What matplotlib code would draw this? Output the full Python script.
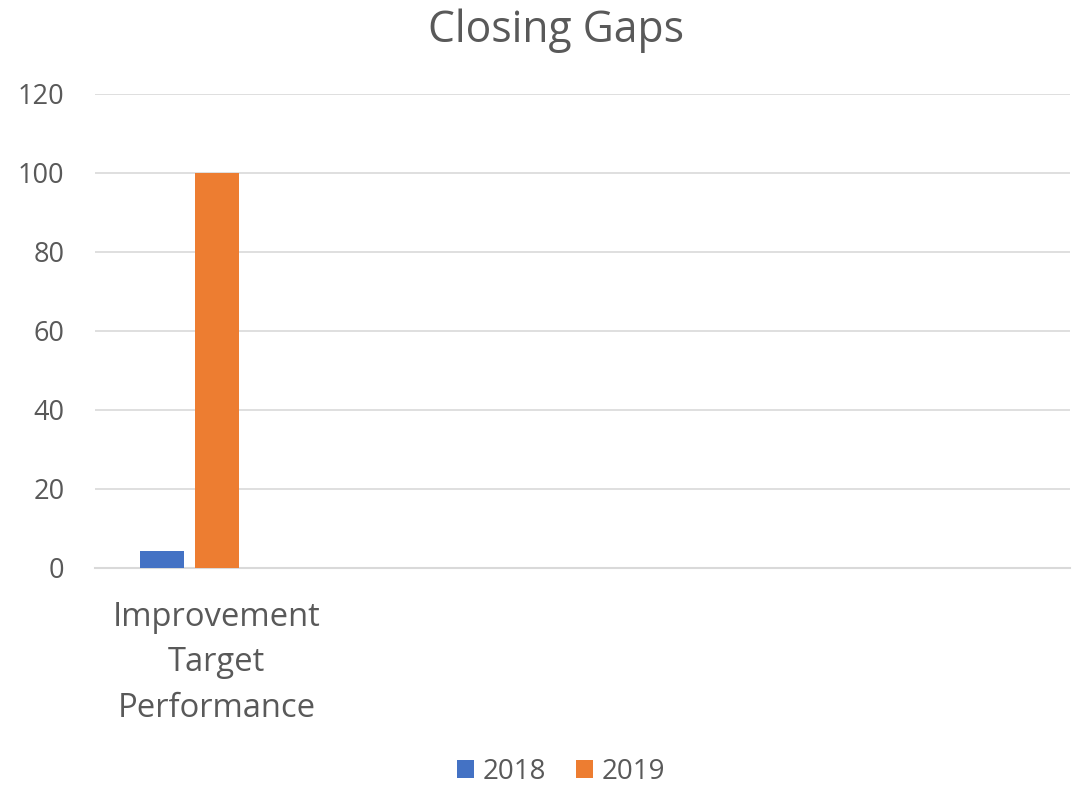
import matplotlib
matplotlib.use("Agg")
import matplotlib.pyplot as plt
import numpy as np

categories = ["Improvement\nTarget\nPerformance", "", "", ""]
series_names = ["2018", "2019"]
values_2018 = [4.2, 0, 0, 0]
values_2019 = [100, 0, 0, 0]
values_hidden = [0, 0, 0, 0]
colors = ["#4472C4", "#ED7D31"]
text_color = "#595959"
grid_color = "#D9D9D9"

plt.rcParams['font.family'] = ['Open Sans', 'DejaVu Sans']

fig = plt.figure(figsize=(10.73, 7.86), dpi=100)
ax = fig.add_axes([95/1073, 218.5/786, (1070-95)/1073, (567.5-94)/786])

x = np.arange(len(categories))
w = 0.18
off = 0.2256
ax.bar(x - off, values_2018, width=w, color=colors[0], label=series_names[0], zorder=3)
ax.bar(x, values_2019, width=w, color=colors[1], label=series_names[1], zorder=3)
ax.bar(x + off, values_hidden, width=w, color="none", zorder=3)

ax.set_xlim(-0.5, len(categories) - 0.5)
ax.set_ylim(0, 120)
ax.set_yticks(range(0, 121, 20))
ax.yaxis.grid(True, color=grid_color, linewidth=1.2, zorder=0)
ax.set_axisbelow(True)
for s in ["top", "right", "left"]:
    ax.spines[s].set_visible(False)
ax.spines["bottom"].set_color(grid_color)
ax.spines["bottom"].set_linewidth(1.5)
ax.tick_params(axis="both", length=0, colors=text_color)
ax.tick_params(axis="y", pad=22, labelsize=19.5)
ax.tick_params(axis="x", pad=24, labelsize=23.6)
ax.set_xticks(x)
ax.set_xticklabels(categories, linespacing=1.5)

fig.text(556/1073, 1 - 31/786, "Closing Gaps", ha="center", va="center",
         fontsize=30.7, color=text_color)

leg = fig.legend(loc="center", bbox_to_anchor=(561/1073, 1 - 772/786), ncol=2,
                 frameon=False, fontsize=20, handlelength=0.62, handleheight=0.62,
                 handletextpad=0.3, columnspacing=1.1)
for t in leg.get_texts():
    t.set_color(text_color)

fig.savefig("out.png", dpi=100)
